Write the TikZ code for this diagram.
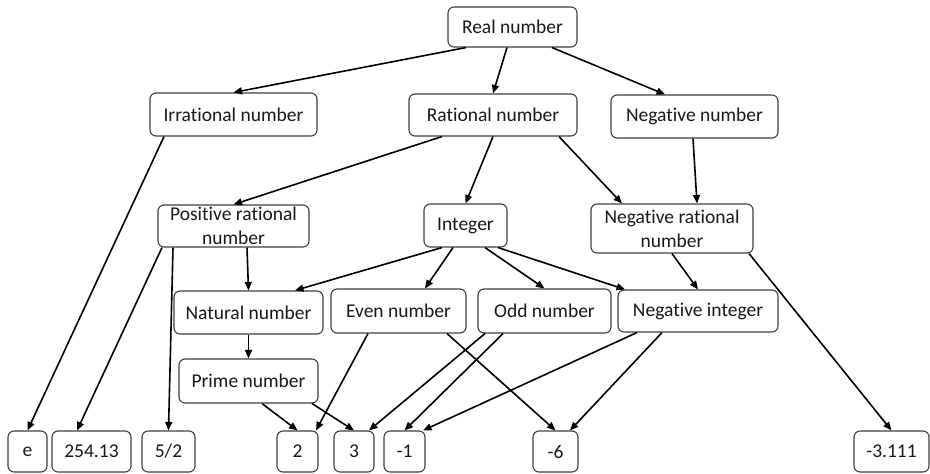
\documentclass[tikz,border=0pt]{standalone}
\usepackage{fontspec}
\setmainfont{Carlito}[Ligatures=NoCommon]
\usetikzlibrary{arrows.meta}
\begin{document}
\begin{tikzpicture}[x=1pt,y=-1pt,
  box/.style={draw=black!75, line width=1.1pt, rounded corners=6pt, fill=white,
    inner sep=0pt, align=center, font=\fontsize{19.5}{24}\selectfont, text=black!90},
  conn/.style={line width=1.6pt, -{Triangle[length=8.5pt,width=7pt]}}]
\useasboundingbox (0,0) rectangle (930,474);
% top levels
\node[box, minimum width=129pt, minimum height=40pt] (real) at (512.5,27) {Real number};
\node[box, minimum width=167pt, minimum height=43pt] (irr) at (233.5,114.5) {Irrational number};
\node[box, minimum width=168pt, minimum height=42pt] (rat) at (493,115) {Rational number};
\node[box, minimum width=167pt, minimum height=43pt] (neg) at (694.5,116.5) {Negative number};
\node[box, minimum width=151pt, minimum height=42pt] (posrat) at (233.5,226) {Positive rational\\number};
\node[box, minimum width=83pt, minimum height=43pt] (int) at (465.5,225.5) {Integer};
\node[box, minimum width=162pt, minimum height=49pt] (negrat) at (672,228.5) {Negative rational\\number};
\node[box, minimum width=149pt, minimum height=43pt] (nat) at (248.5,312.5) {Natural number};
\node[box, minimum width=135pt, minimum height=44pt] (even) at (398.5,311) {Even number};
\node[box, minimum width=133pt, minimum height=44pt] (odd) at (544.5,311) {Odd number};
\node[box, minimum width=160pt, minimum height=42pt] (negint) at (698,311) {Negative integer};
\node[box, minimum width=139pt, minimum height=44pt] (prime) at (248.5,381) {Prime number};
% examples
\node[box, minimum width=39pt, minimum height=41pt] (ve) at (27.5,451.5) {e};
\node[box, minimum width=79pt, minimum height=41pt] (v254) at (91.5,451.5) {254.13};
\node[box, minimum width=53pt, minimum height=41pt] (vfrac) at (168.5,451.5) {5/2};
\node[box, minimum width=41pt, minimum height=41pt] (vtwo) at (297.5,451.5) {2};
\node[box, minimum width=40pt, minimum height=41pt] (vthree) at (354,451.5) {3};
\node[box, minimum width=41pt, minimum height=41pt] (vmone) at (404.5,451.5) {-1};
\node[box, minimum width=45pt, minimum height=41pt] (vmsix) at (555.5,451.5) {-6};
\node[box, minimum width=75pt, minimum height=41pt] (vmthree) at (891.5,451.5) {-3.111};
% connectors
\draw[conn] ([xshift=-46.5pt]real.south) -- (irr.north);
\draw[conn] ([xshift=-5.5pt]real.south) -- (rat.north);
\draw[conn] ([xshift=39.5pt]real.south) -- ([xshift=-29.5pt]neg.north);
\draw[conn] ([xshift=-51pt]rat.south) -- (posrat.north);
\draw[conn] (rat.south) -- (int.north);
\draw[conn] ([xshift=66pt]rat.south) -- ([xshift=-50pt]negrat.north);
\draw[conn] ([xshift=-1.5pt]neg.south) -- ([xshift=25pt]negrat.north);
\draw[conn] ([xshift=-69.5pt]irr.south) -- (ve.north);
\draw[conn] ([xshift=-71.5pt]posrat.south) -- ([xshift=-14.5pt]v254.north);
\draw[conn] ([xshift=-60.5pt]posrat.south) -- (vfrac.north);
\draw[conn] ([xshift=13.5pt]posrat.south) -- (nat.north);
\draw[conn] (nat.south) -- (prime.north);
\draw[conn] ([xshift=-23.5pt]int.south) -- ([xshift=46.5pt]nat.north);
\draw[conn] ([xshift=-12.5pt]int.south) -- ([xshift=26.5pt]even.north);
\draw[conn] ([xshift=19.5pt]int.south) -- (odd.north);
\draw[conn] ([xshift=32.5pt]int.south) -- ([xshift=-73pt]negint.north);
\draw[conn] (negrat.south) -- (negint.north);
\draw[conn] ([xshift=77pt]negrat.south) -- (vmthree.north);
\draw[conn] ([xshift=13.5pt]prime.south) -- (vtwo.north);
\draw[conn] ([xshift=63.5pt]prime.south) -- (vthree.north);
\draw[conn] ([xshift=-30.5pt]even.south) -- ([xshift=18.5pt]vtwo.north);
\draw[conn] ([xshift=48.5pt]even.south) -- (vmsix.north);
\draw[conn] ([xshift=-59.5pt]odd.south) -- ([xshift=15pt]vthree.north);
\draw[conn] ([xshift=-41.5pt]odd.south) -- (vmone.north);
\draw[conn] ([xshift=-61pt]negint.south) -- ([xshift=18.5pt]vmone.north);
\draw[conn] ([xshift=-36pt]negint.south) -- ([xshift=14.5pt]vmsix.north);
\end{tikzpicture}
\end{document}
